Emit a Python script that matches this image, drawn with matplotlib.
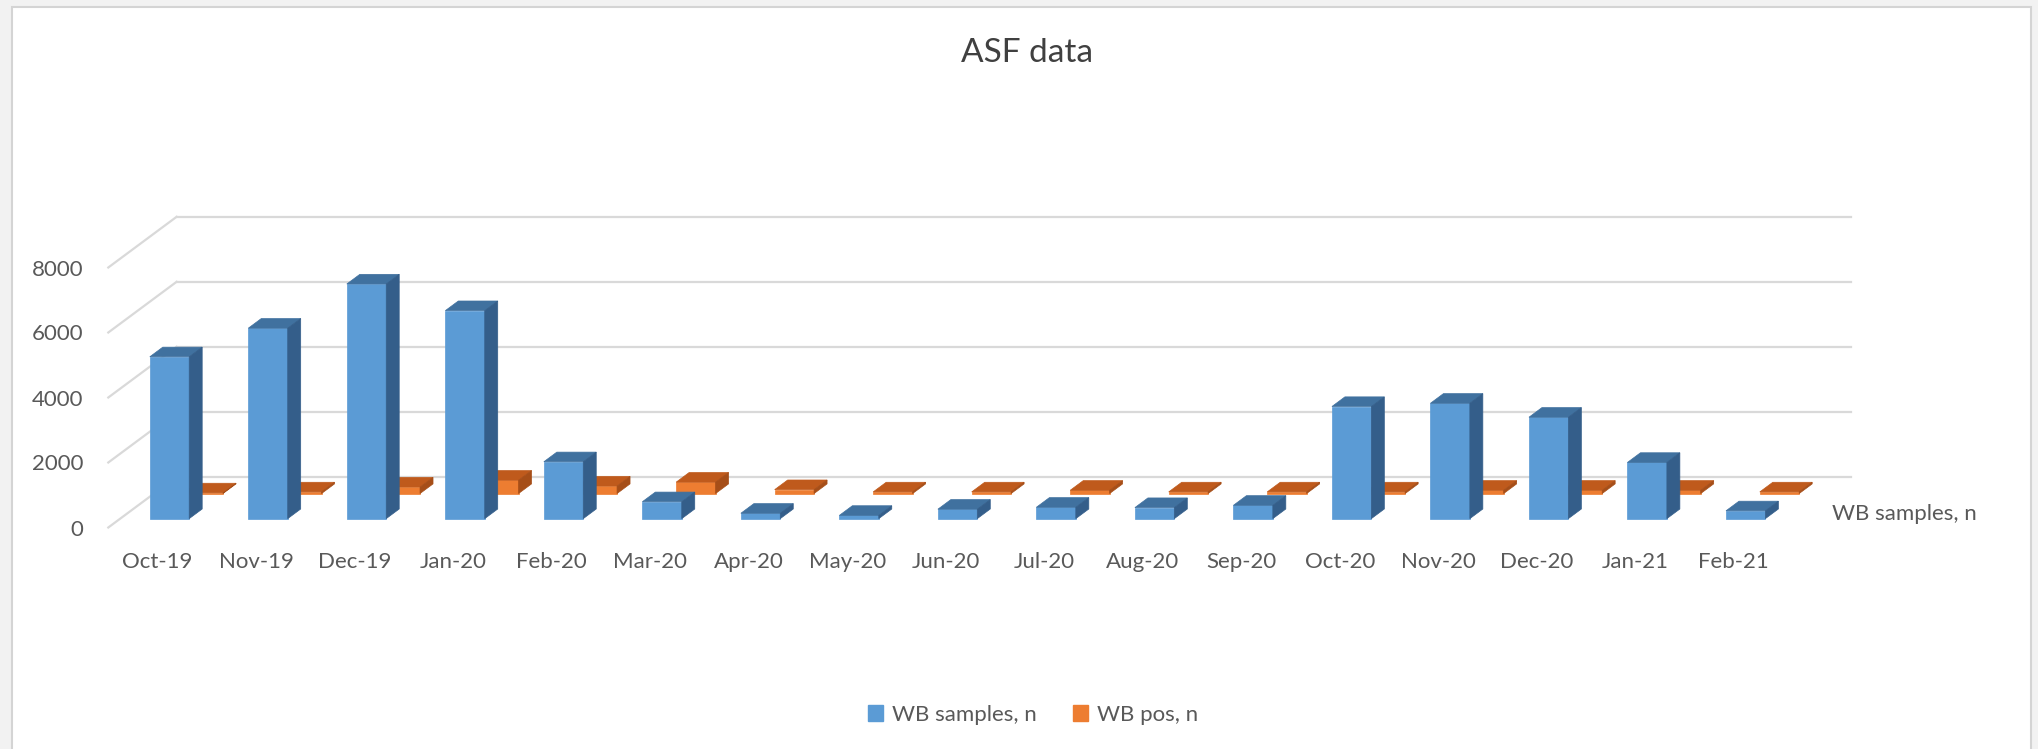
import matplotlib.pyplot as plt
from matplotlib.patches import Polygon, Rectangle, Patch
import numpy as np

plt.rcParams['font.family'] = ['Lato', 'DejaVu Sans']

months = ['Oct-19', 'Nov-19', 'Dec-19', 'Jan-20', 'Feb-20', 'Mar-20', 'Apr-20',
          'May-20', 'Jun-20', 'Jul-20', 'Aug-20', 'Sep-20', 'Oct-20', 'Nov-20',
          'Dec-20', 'Jan-21', 'Feb-21']
wb_samples = [4980, 5860, 7220, 6400, 1750, 520, 165, 100, 290, 350, 340, 410,
              3450, 3550, 3120, 1730, 240]
wb_pos = [20, 50, 200, 410, 230, 350, 120, 50, 50, 100, 50, 50, 50, 100, 100, 100, 50]
yticks = [0, 2000, 4000, 6000, 8000]

W, H = 2038, 749
# front plane of the 3d box, in pixels (from top-left)
FX0, FX1, FY0, FY1 = 108.3, 1783.0, 527.5, 267.5
DEPTH_PX = (68.3, 50.7)
BAR_W = 0.40
BAR_DEPTH = 0.19
GRID = '#D9D9D9'
TXT = '#595959'

fig = plt.figure(figsize=(W / 100, H / 100), dpi=100, facecolor='#F2F2F2')
frame = Rectangle((12 / W, -0.05), (2031 - 12) / W, 1.05 - 7.3 / H,
                  transform=fig.transFigure, facecolor='white', edgecolor='#D4D4D4',
                  lw=1.5, zorder=-10)
fig.add_artist(frame)

ax = fig.add_axes([FX0 / W, (H - FY0) / H, (FX1 - FX0) / W, (FY0 - FY1) / H])
ax.patch.set_visible(False)
ax.set_xlim(-0.5, len(months) - 0.5)
ax.set_ylim(0, 8000)

# depth offset converted to data units
dx_full = DEPTH_PX[0] * len(months) / (FX1 - FX0)
dy_full = DEPTH_PX[1] * 8000 / (FY0 - FY1)

x = np.arange(len(months))
xl, xr = -0.5, len(months) - 0.5

# back wall and side wall gridlines
for v in yticks:
    ax.plot([xl + dx_full, xr + dx_full], [v + dy_full] * 2, color=GRID, lw=1.6,
            clip_on=False, zorder=0)
    ax.plot([xl, xl + dx_full], [v, v + dy_full], color=GRID, lw=1.6,
            clip_on=False, zorder=0)


def draw_row(vals, frac, front, top, side, z):
    ox, oy = frac * dx_full, frac * dy_full
    bx, by = BAR_DEPTH * dx_full, BAR_DEPTH * dy_full
    ax.bar(x + ox, vals, width=BAR_W, bottom=oy, color=front, edgecolor=front,
           lw=0.5, zorder=z, clip_on=False)
    for xi, v in zip(x, vals):
        x0 = xi + ox - BAR_W / 2
        x1 = x0 + BAR_W
        y0, y1 = oy, oy + v
        ax.add_patch(Polygon([(x0, y1), (x1, y1), (x1 + bx, y1 + by), (x0 + bx, y1 + by)],
                             closed=True, facecolor=top, edgecolor=top, lw=0.5,
                             zorder=z, clip_on=False))
        ax.add_patch(Polygon([(x1, y0), (x1 + bx, y0 + by), (x1 + bx, y1 + by), (x1, y1)],
                             closed=True, facecolor=side, edgecolor=side, lw=0.5,
                             zorder=z, clip_on=False))


draw_row(wb_pos, 0.67, '#ED7D31', '#BF5A1C', '#A64E18', 2)
draw_row(wb_samples, 0.175, '#5B9BD5', '#40719F', '#345E8A', 3)

ax.set_yticks(yticks)
ax.set_xticks(x, months)
ax.tick_params(axis='y', length=0, pad=18, labelsize=16, labelcolor=TXT)
ax.tick_params(axis='x', length=0, pad=18, labelsize=16, labelcolor=TXT)
for s in ax.spines.values():
    s.set_visible(False)

ax.annotate('WB samples, n', xy=(xr + 0.27 * dx_full, 0.27 * dy_full),
            xytext=(22, 0), textcoords='offset points', ha='left', va='center',
            fontsize=16, color=TXT, annotation_clip=False)

fig.text(1027 / W, 1 - 53 / H, 'ASF data', ha='center', va='center',
         fontsize=24, color='#404040')

fig.legend(handles=[Patch(color='#5B9BD5'), Patch(color='#ED7D31')],
           labels=['WB samples, n', 'WB pos, n'], loc='center',
           bbox_to_anchor=(1033 / W, 1 - 715 / H), ncol=2, frameon=False,
           fontsize=16, handlelength=0.7, handleheight=0.7, columnspacing=1.6,
           handletextpad=0.4, labelcolor=TXT)

fig.savefig('out.png', dpi=100, facecolor=fig.get_facecolor())
